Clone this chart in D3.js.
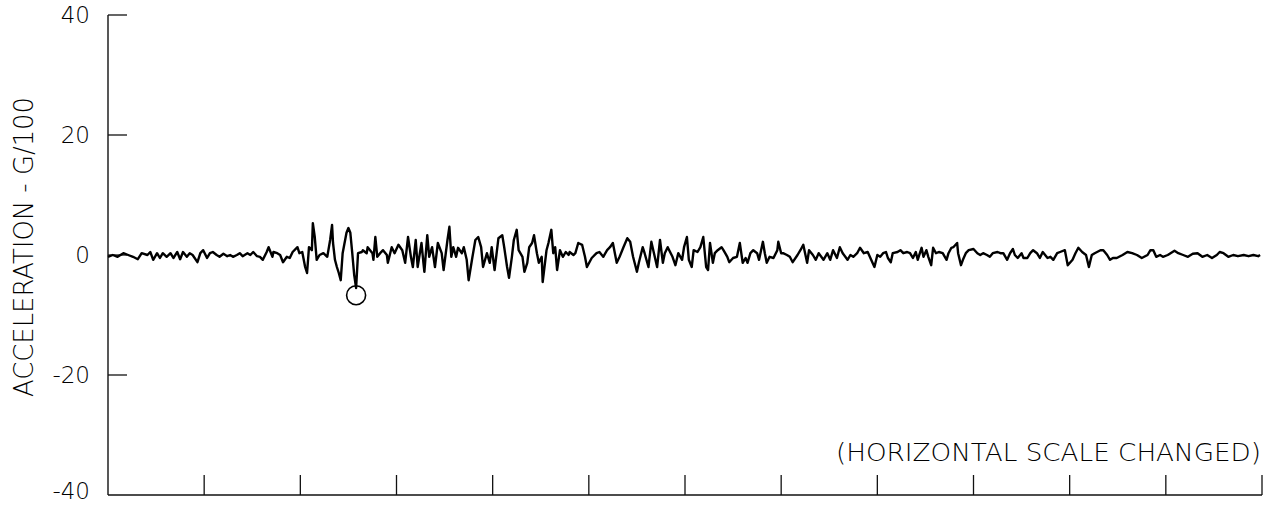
<!DOCTYPE html>
<html>
<head>
<meta charset="utf-8">
<script src="https://cdn.jsdelivr.net/npm/d3@7"></script>
<style>
  html, body { margin: 0; padding: 0; background: #fff; }
  svg { display: block; }
  text { font-family: "DejaVu Sans", sans-serif; fill: #000; font-weight: 300; }
</style>
</head>
<body>
<svg id="chart" width="1277" height="508"></svg>
<script>
// time in hundredths of a horizontal division (12 divisions, scale changed)
const time = [0,5,10,16,21,26,31,35,41,44,47,51,54,57,61,65,68,72,75,78,82,85,88,93,96,99,103,106,109,113,116,120,124,127,130,134,137,140,145,148,151,155,158,161,165,167,171,172,176,179,182,186,189,192,197,199,
202,205,207,209,212,213,215,217,220,224,228,231,233,234,236,238,240,242,244,248,250,252,254,256,258,260,264,265,269,270,275,276,278,280,283,286,290,
291,295,298,302,306,309,312,315,317,320,322,326,328,329,332,334,337,340,343,347,349,353,355,357,359,362,364,368,370,373,375,379,382,385,388,390,394,397,399,402,
406,410,412,415,417,420,422,425,427,431,433,436,438,441,443,446,448,451,452,456,458,461,463,465,467,470,473,476,479,480,484,486,489,493,496,498,503,508,511,
515,519,522,525,529,532,536,540,543,546,550,552,556,558,562,565,567,571,574,577,579,582,587,590,593,
597,599,602,604,607,609,613,616,619,622,624,626,629,631,634,638,640,644,646,650,654,657,660,663,665,668,671,675,677,681,683,685,688,692,696,697,700,702,706,709,712,717,720,723,727,729,733,736,739,744,748,751,754,758,761,764,769,772,775,779,782,
786,790,795,797,800,803,806,809,811,814,816,821,824,827,831,834,837,840,842,846,848,851,853,856,858,861,864,868,872,874,877,879,883,884,887,889,892,895,900,904,907,910,914,917,920,925,928,931,935,938,941,943,946,950,952,956,959,962,966,969,972,977,980,
983,987,990,995,998,1003,1006,1009,1013,1017,1020,1023,1026,1032,1035,1039,1042,1045,1049,1055,1060,1065,1070,1075,1081,1084,1087,1090,1094,1097,1102,1109,1113,1118,1123,1128,1133,1138,1143,1148,1153,1156,1160,1165,1170,1175,1181,1186,1191,1196,1198];

// acceleration in g/100
const accel = [-0.3,0,-0.3,0.3,0,-0.3,-0.7,0.3,0,0.5,-0.8,0.3,-0.5,0.3,-0.3,0.3,-0.5,0.5,-0.7,0.5,-0.3,0.3,0,-1.2,0.3,0.8,-0.5,0.3,0.5,0,-0.3,0.2,-0.2,0,-0.3,0,0.3,-0.2,0.3,0,0.5,-0.2,-0.3,-0.8,0.5,1.3,-0.3,0.5,0.3,0,-1.2,-0.3,-0.5,0.5,1.3,0.3,
0.5,-2,-3,1.3,0.8,5.3,3,-0.8,0,0.3,-0.3,2.5,5,2,-0.8,-2,-3,-4.2,0.3,3.7,4.5,3.7,0.3,-3.3,-5.5,0.3,0.5,0.8,0.3,1.3,0.3,-0.8,3,-0.3,0.3,0.8,0,
-1.3,1.3,0.3,1.7,0.8,-1.3,3,-0.3,-2,2.5,-2,2,-1.3,-2.8,3.3,-0.3,1.3,-2,2,0.3,-2.5,2.5,4.7,-0.3,1.3,-0.3,1.2,0.3,1.3,-0.8,-4.2,-0.3,2.5,3,1.3,-2,0.3,-1.3,1.3,-2.5,
2.8,3.3,1.3,-2,-3.8,-0.3,2.5,4.2,0.8,-0.3,-2.8,-1.3,1.3,2,3.3,0.3,-1.3,-0.3,-4.5,0.8,2,4.2,0.3,1.3,-2.5,0.8,-0.3,0.5,0,0.5,0,0.3,2,1.7,-0.3,-2,-0.5,0.3,0.5,
-0.3,0.8,1.3,2,-1.3,-0.3,1.3,2.8,2.2,-0.3,-2.8,-1.3,1.3,0.3,-2,2.2,0.8,-2,2.5,-1.3,0.3,1.3,-0.3,-1.7,0.3,
-0.8,1.3,3,-0.8,-2,0.8,0.5,1.3,3,-2,-2.5,2,-1.3,0.3,0.8,1.3,0.8,-0.3,-1.2,-0.5,-0.3,2,-1.3,-0.5,-1.3,0.3,0.8,0.3,-0.8,2.2,0.3,-1.3,-0.3,-0.5,0.8,2.2,0.3,0.3,0,-0.3,-1.2,0,0.8,1.7,-1.3,0.8,0,-0.8,0.3,-0.8,0.3,-0.8,0.8,-0.5,1.3,0.3,-0.8,0,-0.3,0.3,1.2,
0.3,0.5,-1.3,-2,0,-0.3,0.3,0.5,-0.5,-1.2,0.3,0.5,0.8,0.3,0.5,0.3,-0.5,0.5,-0.8,1.2,-0.3,0.8,-0.3,-1.7,1.2,0.3,0.5,0.3,-0.8,0.3,1.2,1.3,2,0.3,-1.7,-0.8,0.3,0.8,1,0.3,0,0.3,0,-0.3,0.3,0.5,0.3,0.3,-0.8,0.3,1,0,-0.5,0.3,-0.5,-0.5,0.3,0.8,0.3,-0.5,0.5,-0.5,-0.3,
-0.8,0.3,0.5,0.8,-1.7,-0.8,0.3,1.2,0.5,0,-2,0,0.3,0.8,0.8,0,-0.8,-0.5,-0.5,0,0.5,0.3,0,-0.5,0,0.8,0.8,-0.3,0,-0.3,0,0.7,0.3,0,-0.3,0.2,0.3,-0.3,0,-0.5,0,0.5,0.3,-0.3,0,-0.2,0,-0.2,0,-0.2,0];

const yTickValues = [40, 20, 0, -20, -40];
const xTickDivisions = [0,1,2,3,4,5,6,7,8,9,10,11,12];
const peakTime = [258];
const peakAccel = [-6.7];
const yTitle = "ACCELERATION  -  G/100";
const note = "(HORIZONTAL SCALE CHANGED)";

const svg = d3.select("#chart");
const x = d3.scaleLinear().domain([0, 1200]).range([108, 1262]);
const y = d3.scaleLinear().domain([-40, 40]).range([495, 15]);

// left axis line
svg.append("line").attr("x1", x(0)).attr("x2", x(0)).attr("y1", y(40)).attr("y2", y(-40))
  .attr("stroke", "#111").attr("stroke-width", 1.4);
// y ticks pointing right
svg.selectAll(".ytick").data(yTickValues.filter(v => v !== -40)).enter().append("line")
  .attr("x1", x(0)).attr("x2", x(0) + 19)
  .attr("y1", d => y(d)).attr("y2", d => y(d))
  .attr("stroke", "#111").attr("stroke-width", 1.3);
// y tick labels
svg.selectAll(".ylab").data(yTickValues).enter().append("text")
  .attr("x", 90).attr("y", d => Math.min(y(d) + 8, 499))
  .attr("text-anchor", "end")
  .attr("font-size", 23)
  .text(d => d);

// bottom axis
svg.append("line").attr("x1", x(0)).attr("x2", x(1200)).attr("y1", y(-40)).attr("y2", y(-40))
  .attr("stroke", "#111").attr("stroke-width", 1.4);
svg.selectAll(".xtick").data(xTickDivisions.filter(d => d > 0)).enter().append("line")
  .attr("x1", d => x(d * 100)).attr("x2", d => x(d * 100))
  .attr("y1", y(-40)).attr("y2", y(-40) - 20)
  .attr("stroke", "#111").attr("stroke-width", 1.3);

// y title
svg.append("text")
  .attr("transform", `translate(33,${247}) rotate(-90)`)
  .attr("text-anchor", "middle")
  .attr("font-size", 26)
  .attr("textLength", 300).attr("lengthAdjust", "spacingAndGlyphs")
  .text(yTitle);

// note
svg.append("text")
  .attr("x", 1261).attr("y", 461)
  .attr("text-anchor", "end")
  .attr("font-size", 24)
  .attr("textLength", 425).attr("lengthAdjust", "spacingAndGlyphs")
  .text(note);

// signal
const pts = time.map((t, i) => [t, accel[i]]);
svg.append("path").datum(pts)
  .attr("fill", "none").attr("stroke", "#000").attr("stroke-width", 2.4)
  .attr("stroke-linejoin", "round")
  .attr("d", d3.line().x(d => x(d[0])).y(d => y(d[1])));

// peak marker
svg.selectAll(".peak").data(peakTime).enter().append("circle")
  .attr("cx", d => x(d)).attr("cy", (d, i) => y(peakAccel[i]))
  .attr("r", 9.5).attr("fill", "none").attr("stroke", "#000").attr("stroke-width", 1.6);
</script>
</body>
</html>
